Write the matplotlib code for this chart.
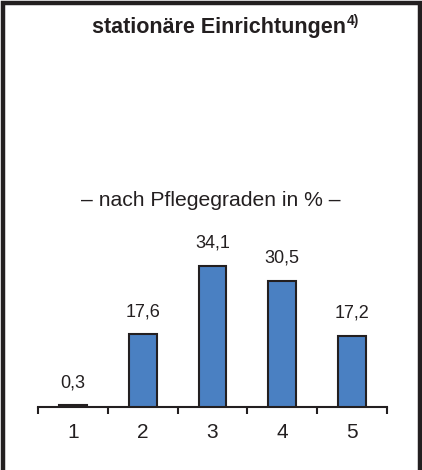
import matplotlib
matplotlib.use("Agg")
import matplotlib.pyplot as plt
from matplotlib.patches import Rectangle

categories = ["1", "2", "3", "4", "5"]
values = [0.3, 17.6, 34.1, 30.5, 17.2]
value_labels = ["0,3", "17,6", "34,1", "30,5", "17,2"]
title = "stationäre Einrichtungen"
title_sup = "4)"
subtitle = "– nach Pflegegraden in % –"

plt.rcParams['font.family'] = ['Liberation Sans', 'DejaVu Sans']
txt = '#231f20'

W, H = 422, 470
fig = plt.figure(figsize=(W / 100, H / 100), dpi=100)

# frame
fig.patches.append(Rectangle((2.5 / W, -0.01), (W - 4.5) / W, (H - 2.5) / H + 0.01,
                             transform=fig.transFigure, fill=False,
                             edgecolor=txt, linewidth=3.2))

ax = fig.add_axes([38 / W, 63.3 / H, 349 / W, 165.2 / H])
x = list(range(1, len(categories) + 1))
ax.bar(x, values, width=0.4, color='#4a80c2', edgecolor=txt, linewidth=1.5, zorder=3)
for xi, v, lab in zip(x, values, value_labels):
    ax.annotate(lab, (xi, v), xytext=(0, 10), textcoords='offset points',
                ha='center', va='bottom', fontsize=13, color=txt)

ax.set_xlim(0.5, 5.5)
ax.set_ylim(0, 40)
for s in ['top', 'right', 'left']:
    ax.spines[s].set_visible(False)
ax.spines['bottom'].set_color(txt)
ax.spines['bottom'].set_linewidth(1.5)
ax.set_yticks([])
ax.set_xticks(x)
ax.set_xticklabels(categories, fontsize=15, color=txt)
ax.tick_params(axis='x', which='major', length=0, pad=12)
ax.set_xticks([i + 0.5 for i in range(0, 6)], minor=True)
ax.tick_params(axis='x', which='minor', length=5, width=1.5, color=txt, direction='out')

t = fig.text(92 / W, 1 - 33.5 / H, title, ha='left', va='baseline',
             fontsize=15.5, fontweight='bold', color=txt)
fig.canvas.draw()
bb = t.get_window_extent()
fig.text((bb.x1 + 1) / W, 1 - 25.5 / H, title_sup, ha='left', va='baseline',
         fontsize=10, fontweight='bold', color=txt)
fig.text(0.5, 1 - 201 / H, subtitle, ha='center', va='center', fontsize=15.2, color=txt)

fig.savefig('out.png', dpi=100, facecolor='white')
